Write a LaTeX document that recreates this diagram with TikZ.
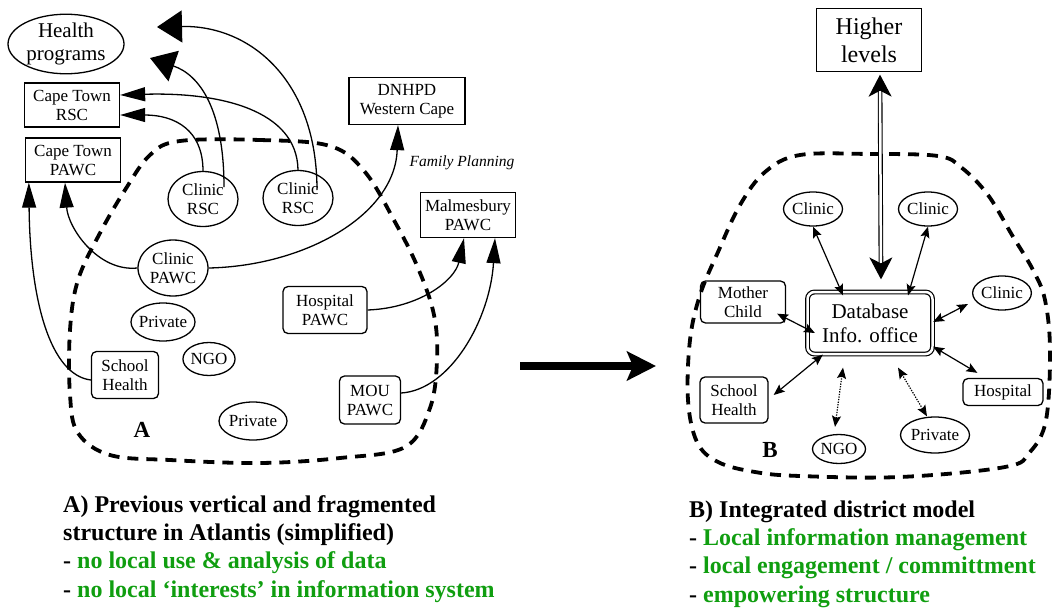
\documentclass[tikz,border=0pt]{standalone}
\usepackage{fontspec}
\setmainfont{Liberation Serif}
\usetikzlibrary{arrows.meta,shapes.geometric,calc}
\definecolor{notegreen}{RGB}{16,158,16}
\begin{document}
\begin{tikzpicture}[x=1pt,y=-1pt,
  lbl/.style={align=center, inner sep=0pt, font=\fontsize{17}{19}\selectfont},
  box/.style={lbl, draw, line width=1.3pt},
  rbox/.style={box, rounded corners=5pt},
  oval/.style={lbl, draw, ellipse, line width=1.3pt},
  region/.style={line width=3.8pt, dash pattern=on 11pt off 8pt},
  link/.style={line width=1.3pt},
  tri/.style={-{Triangle[length=25pt,width=14pt]}},
  bigtri/.style={-{Triangle[length=25pt,width=32pt]}},
  both/.style={line width=1.2pt, {Stealth[length=11pt,width=9pt,inset=2pt]}-{Stealth[length=11pt,width=9pt,inset=2pt]}},
  dotboth/.style={both, dash pattern=on 1.3pt off 1.3pt},
  letter/.style={inner sep=0pt, font=\fontsize{23}{23}\selectfont\bfseries},
  note/.style={anchor=base west, inner sep=0pt, font=\fontsize{24}{28}\selectfont\bfseries},
]
\useasboundingbox (0,0) rectangle (1054,608);

% ---------- A: previous vertical structure ----------
\draw[region] plot[smooth cycle, tension=0.6] coordinates {
  (180,141) (260,140) (330,146) (365,172) (395,222) (418,268) (434,315)
  (437,360) (430,408) (405,447) (340,458) (260,463) (170,460) (110,455)
  (78,433) (70,395) (70,330) (78,280) (100,233) (125,190) (150,155)};

\node[oval, minimum width=116, minimum height=54, font=\fontsize{21}{23}\selectfont] (hp) at (66,44) {Health\\programs};
\node[box, minimum width=95, minimum height=44] (ctrsc) at (72,105) {Cape Town\\RSC};
\node[box, minimum width=95, minimum height=44] (ctpawc) at (73,160) {Cape Town\\PAWC};
\node[oval, minimum width=70, minimum height=55] (crsc1) at (203,199) {Clinic\\RSC};
\node[oval, minimum width=70, minimum height=55] (crsc2) at (298,198) {Clinic\\RSC};
\node[box, minimum width=116, minimum height=47] (dnhpd) at (407,101) {DNHPD\\Western Cape};
\node[inner sep=0pt, font=\fontsize{15.5}{17}\selectfont\itshape] (fp) at (462,163) {Family Planning};
\node[box, minimum width=95, minimum height=45] (malm) at (468,215) {Malmesbury\\PAWC};
\node[oval, minimum width=70, minimum height=56] (cpawc) at (173,268) {Clinic\\PAWC};
\node[oval, minimum width=64, minimum height=38, inner xsep=-3pt] (priv1) at (163,322) {Private};
\node[rbox, minimum width=84, minimum height=47] (hosp) at (325,310) {Hospital\\PAWC};
\node[rbox, minimum width=67, minimum height=47] (school) at (125,375) {School\\Health};
\node[oval, minimum width=52, minimum height=33] (ngo) at (209,359) {NGO};
\node[oval, minimum width=68, minimum height=38, inner xsep=-3pt] (priv2) at (253,421) {Private};
\node[rbox, minimum width=61, minimum height=48] (mou) at (370,400) {MOU\\PAWC};
\node[letter] (la) at (142,430) {A};

\coordinate (hpend1) at (157,27);
\coordinate (hpend2) at (150,58);

\draw[link, tri] (crsc1.north) .. controls (203,130) and (175,115) .. ($(ctrsc.east)+(0,10)$);
\draw[link, bigtri] ($(crsc1)+(21,-12)$) .. controls (224,110) and (200,75) .. (hpend2);
\draw[link, tri] (crsc2.north) .. controls (297,110) and (220,92) .. ($(ctrsc.east)+(0,-10)$);
\draw[link, bigtri] ($(crsc2)+(19,-8)$) .. controls (317,80) and (250,25) .. (hpend1);
\draw[link, tri] (cpawc.west) .. controls (98,272) and (68,228) .. ($(ctpawc.south)+(-8,0)$);
\draw[link, tri] ($(school.west)+(0,5)$) .. controls (50,375) and (30,300) .. ($(ctpawc.south west)+(4,0)$);
\draw[link, tri] (cpawc.east) .. controls (305,266) and (395,215) .. ($(dnhpd.south)+(-9,0)$);
\draw[link, tri] (hosp.east) .. controls (420,308) and (455,280) .. ($(malm.south)+(-4,0)$);
\draw[link, tri] ($(mou.east)+(0,-7)$) .. controls (450,390) and (490,320) .. ($(malm.south)+(27,0)$);

% ---------- transition ----------
\coordinate (mvfrom) at (520,366);
\coordinate (mvto) at (656,366);
\draw[line width=8pt, -{Stealth[length=29pt,width=29pt,inset=6pt]}] (mvfrom) -- (mvto);

% ---------- B: integrated district model ----------
\draw[region] plot[smooth cycle, tension=0.6] coordinates {
  (800,155) (870,154) (938,156) (962,168) (988,195) (1012,235) (1033,270)
  (1045,300) (1050,350) (1046,420) (1030,452) (1005,467) (900,477)
  (800,476) (755,472) (718,462) (697,442) (688,400) (690,340) (700,295)
  (718,252) (740,205) (765,172)};

\node[box, minimum width=105, minimum height=63, font=\fontsize{24}{28}\selectfont] (hl) at (869,40) {Higher\\levels};
\node[lbl, draw, double, double distance=2.5pt, line width=1.2pt, rounded corners=7pt,
      minimum width=125, minimum height=62, font=\fontsize{21}{24}\selectfont] (db) at (870,323) {Database\\Info. office};
\node[oval, minimum width=59, minimum height=34] (rc1) at (813,209) {Clinic};
\node[oval, minimum width=59, minimum height=34] (rc2) at (928,209) {Clinic};
\node[oval, minimum width=58, minimum height=34] (rc3) at (1002,293) {Clinic};
\node[rbox, minimum width=85, minimum height=42] (mc) at (743,302) {Mother\\Child};
\node[rbox, minimum width=68, minimum height=46] (rsch) at (734,400) {School\\Health};
\node[rbox, minimum width=80, minimum height=27] (rhosp) at (1003,392) {Hospital};
\node[oval, minimum width=53, minimum height=29] (rngo) at (839,449) {NGO};
\node[oval, minimum width=69, minimum height=36, inner xsep=-3pt] (rpriv) at (935,435) {Private};
\node[letter] (lb) at (770,450) {B};

\draw[double, double distance=2.5pt, line width=1.1pt,
      {Stealth[length=22pt,width=23pt,inset=6pt]}-{Stealth[length=22pt,width=23pt,inset=6pt]}]
  ($(hl.south)+(11,2.5)$) -- ($(db.north)+(11,-12)$);

\draw[both] (rc1.south) -- ($(db.north)+(-27,4)$);
\draw[both] (rc2.south) -- ($(db.north)+(38,4)$);
\draw[both] ($(rc3.west)+(-4,11)$) -- ($(db.east)+(0,-1)$);
\draw[both] ($(mc.south east)+(-9,-10)$) -- ($(db.west)+(8,10)$);
\draw[both] ($(rsch.east)+(5,-5)$) -- ($(db.south west)+(16,0)$);
\draw[both] ($(rhosp.north west)+(15,-5)$) -- ($(db.south east)+(0,-8)$);
\draw[dotboth] ($(rngo.north)+(-4,-7)$) -- ($(db.south)+(-27,13)$);
\draw[dotboth] ($(rpriv.north)+(-8,0)$) -- ($(db.south)+(28,13)$);

% ---------- captions ----------
\node[note] (ta1) at (63,512) {A) Previous vertical and fragmented};
\node[note] (ta2) at (63,540) {structure in Atlantis (simplified)};
\node[note] (ta3) at (63,568) {- \textcolor{notegreen}{no local use \& analysis of data}};
\node[note] (ta4) at (63,597) {- \textcolor{notegreen}{no local ‘interests’ in information system}};

\node[note] (tb1) at (689,517) {B) Integrated district model};
\node[note] (tb2) at (689,545) {- \textcolor{notegreen}{Local information management}};
\node[note] (tb3) at (689,573) {- \textcolor{notegreen}{local engagement / committment}};
\node[note] (tb4) at (689,602) {- \textcolor{notegreen}{empowering structure}};
\end{tikzpicture}
\end{document}
